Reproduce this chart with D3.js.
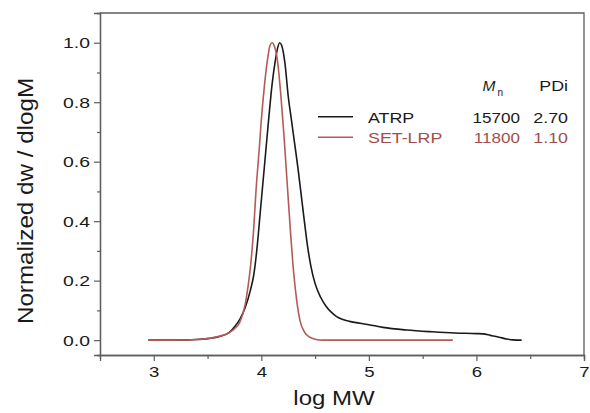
<!DOCTYPE html>
<html>
<head>
<meta charset="utf-8">
<script src="https://cdn.jsdelivr.net/npm/d3@7"></script>
<style>
  body { margin: 0; background: #fff; }
  svg { display: block; font-family: "Liberation Sans", Arial, sans-serif; }
</style>
</head>
<body>
<svg id="chart" width="590" height="413"></svg>
<script>
// GPC traces: [log MW, normalized dw/dlogM]
const atrp = [
  [2.95, 0], [3.2, 0], [3.4, 0.002], [3.5, 0.005], [3.6, 0.011], [3.7, 0.025],
  [3.75, 0.045], [3.8, 0.07], [3.85, 0.11], [3.9, 0.17], [3.93, 0.22], [3.96, 0.31],
  [3.99, 0.43], [4.01, 0.51], [4.04, 0.63], [4.07, 0.75], [4.10, 0.86], [4.13, 0.94],
  [4.15, 0.98], [4.17, 1.0], [4.19, 0.99], [4.22, 0.93], [4.25, 0.82], [4.28, 0.74],
  [4.31, 0.66], [4.34, 0.58], [4.37, 0.49], [4.40, 0.40], [4.43, 0.315], [4.46, 0.25],
  [4.50, 0.19], [4.55, 0.145], [4.60, 0.115], [4.65, 0.094], [4.70, 0.079], [4.76, 0.069],
  [4.82, 0.063], [5.0, 0.052], [5.13, 0.043], [5.35, 0.034], [5.59, 0.028], [5.8, 0.024],
  [6.0, 0.022], [6.06, 0.021], [6.13, 0.016], [6.21, 0.01], [6.28, 0.004], [6.34, 0.001],
  [6.42, 0]
];
const setlrp = [
  [2.95, 0], [3.2, 0], [3.4, 0.002], [3.5, 0.005], [3.6, 0.012], [3.7, 0.025],
  [3.75, 0.038], [3.8, 0.06], [3.85, 0.12], [3.88, 0.19], [3.9, 0.25], [3.93, 0.38],
  [3.95, 0.50], [3.98, 0.64], [4.00, 0.74], [4.03, 0.86], [4.06, 0.95], [4.08, 0.99],
  [4.10, 1.0], [4.12, 0.99], [4.15, 0.94], [4.18, 0.83], [4.21, 0.69], [4.24, 0.53],
  [4.27, 0.37], [4.30, 0.23], [4.33, 0.13], [4.36, 0.065], [4.40, 0.028], [4.45, 0.01],
  [4.50, 0.003], [4.57, 0], [5.78, 0]
];
const seriesNames = ["ATRP", "SET-LRP"];
const mnValues = ["15700", "11800"];
const pdiValues = ["2.70", "1.10"];
const xTicks = [3, 4, 5, 6, 7];
const xMinor = [3.5, 4.5, 5.5, 6.5];
const yTicks = [0, 0.2, 0.4, 0.6, 0.8, 1.0];
const yMinor = [0.1, 0.3, 0.5, 0.7, 0.9];

const colors = ["#1a1a1a", "#b35b56"];
const textColors = ["#1a1a1a", "#a24f4b"];
const frame = "#5e5e5e";

const svg = d3.select("#chart");
const plot = { left: 100, right: 584, top: 13, bottom: 355 };

const x = d3.scaleLinear().domain([2.5, 7]).range([plot.left, plot.right]);
const y = d3.scaleLinear().domain([-0.05, 1.1]).range([plot.bottom, plot.top]);

// widen glyphs a little, the source figure is horizontally stretched
function widen(sel, k) {
  sel.each(function () {
    const w = this.getComputedTextLength();
    d3.select(this).attr("textLength", w * k).attr("lengthAdjust", "spacingAndGlyphs");
  });
}

// frame (top and right)
svg.append("path")
  .attr("d", `M${plot.left},${plot.top}H${plot.right}V${plot.bottom}`)
  .attr("fill", "none").attr("stroke", frame).attr("stroke-width", 1.3);

// x axis
const gx = svg.append("g").attr("transform", `translate(0,${plot.bottom})`);
gx.call(d3.axisBottom(x).tickValues(xMinor).tickSize(4).tickFormat(""));
const gx2 = svg.append("g").attr("transform", `translate(0,${plot.bottom})`)
  .call(d3.axisBottom(x).tickValues(xTicks).tickSize(6).tickPadding(5).tickFormat(d3.format("d")));
gx.selectAll("line").attr("stroke", frame).attr("stroke-width", 1.2);
gx2.selectAll("line").attr("stroke", frame).attr("stroke-width", 1.2);
gx2.selectAll("text").attr("font-size", 15.5).attr("fill", "#1a1a1a").call(widen, 1.2);

// y axis
const gy = svg.append("g").attr("transform", `translate(${plot.left},0)`)
  .call(d3.axisLeft(y).tickValues(yMinor).tickSize(3).tickFormat(""));
const gy2 = svg.append("g").attr("transform", `translate(${plot.left},0)`)
  .call(d3.axisLeft(y).tickValues(yTicks).tickSize(6).tickPadding(4).tickFormat(d3.format(".1f")));
svg.selectAll(".domain").attr("stroke", frame).attr("stroke-width", 1.3);
gy.selectAll("line").attr("stroke", frame).attr("stroke-width", 1.2);
gy2.selectAll("line").attr("stroke", frame).attr("stroke-width", 1.2);
gy2.selectAll("text").attr("font-size", 15.5).attr("fill", "#1a1a1a").call(widen, 1.25);

// axis titles
svg.append("text")
  .attr("x", 334).attr("y", 405)
  .attr("text-anchor", "middle").attr("font-size", 20).attr("fill", "#1a1a1a")
  .text("log MW").call(widen, 1.2);

svg.append("text")
  .attr("transform", "translate(33,201) rotate(-90)")
  .attr("text-anchor", "middle").attr("font-size", 22).attr("fill", "#1a1a1a")
  .text("Normalized dw / dlogM").call(widen, 1.1);

// curves
const line = d3.line()
  .x(d => x(d[0]))
  .y(d => y(d[1]))
  .curve(d3.curveMonotoneX);

[atrp, setlrp].forEach((data, i) => {
  svg.append("path")
    .datum(data)
    .attr("fill", "none")
    .attr("stroke", colors[i])
    .attr("stroke-width", 1.6)
    .attr("d", line);
});

// legend / table
const rowY = [122.7, 143.3];
const lg = svg.append("g");

const mText = lg.append("text").attr("x", 503).attr("y", 90.7)
  .attr("text-anchor", "end").attr("font-size", 15.5).attr("fill", "#1a1a1a");
mText.append("tspan").attr("font-style", "italic").text("M");
mText.append("tspan").attr("font-size", 10).attr("dx", 2).attr("dy", 5).text("n");

lg.append("text").attr("x", 568).attr("y", 90.7)
  .attr("text-anchor", "end").attr("font-size", 15.5).attr("fill", "#1a1a1a")
  .text("PDi").call(widen, 1.15);

seriesNames.forEach((name, i) => {
  const yy = rowY[i];
  lg.append("line")
    .attr("x1", 318).attr("x2", 353)
    .attr("y1", yy - 6).attr("y2", yy - 6)
    .attr("stroke", colors[i]).attr("stroke-width", 1.6);
  lg.append("text").attr("x", 368).attr("y", yy)
    .attr("font-size", 15.5).attr("fill", textColors[i])
    .text(name).call(widen, 1.15);
  lg.append("text").attr("x", 520).attr("y", yy)
    .attr("text-anchor", "end").attr("font-size", 15.5).attr("fill", textColors[i])
    .text(mnValues[i]).call(widen, 1.1);
  lg.append("text").attr("x", 568).attr("y", yy)
    .attr("text-anchor", "end").attr("font-size", 15.5).attr("fill", textColors[i])
    .text(pdiValues[i]).call(widen, 1.15);
});
</script>
</body>
</html>
